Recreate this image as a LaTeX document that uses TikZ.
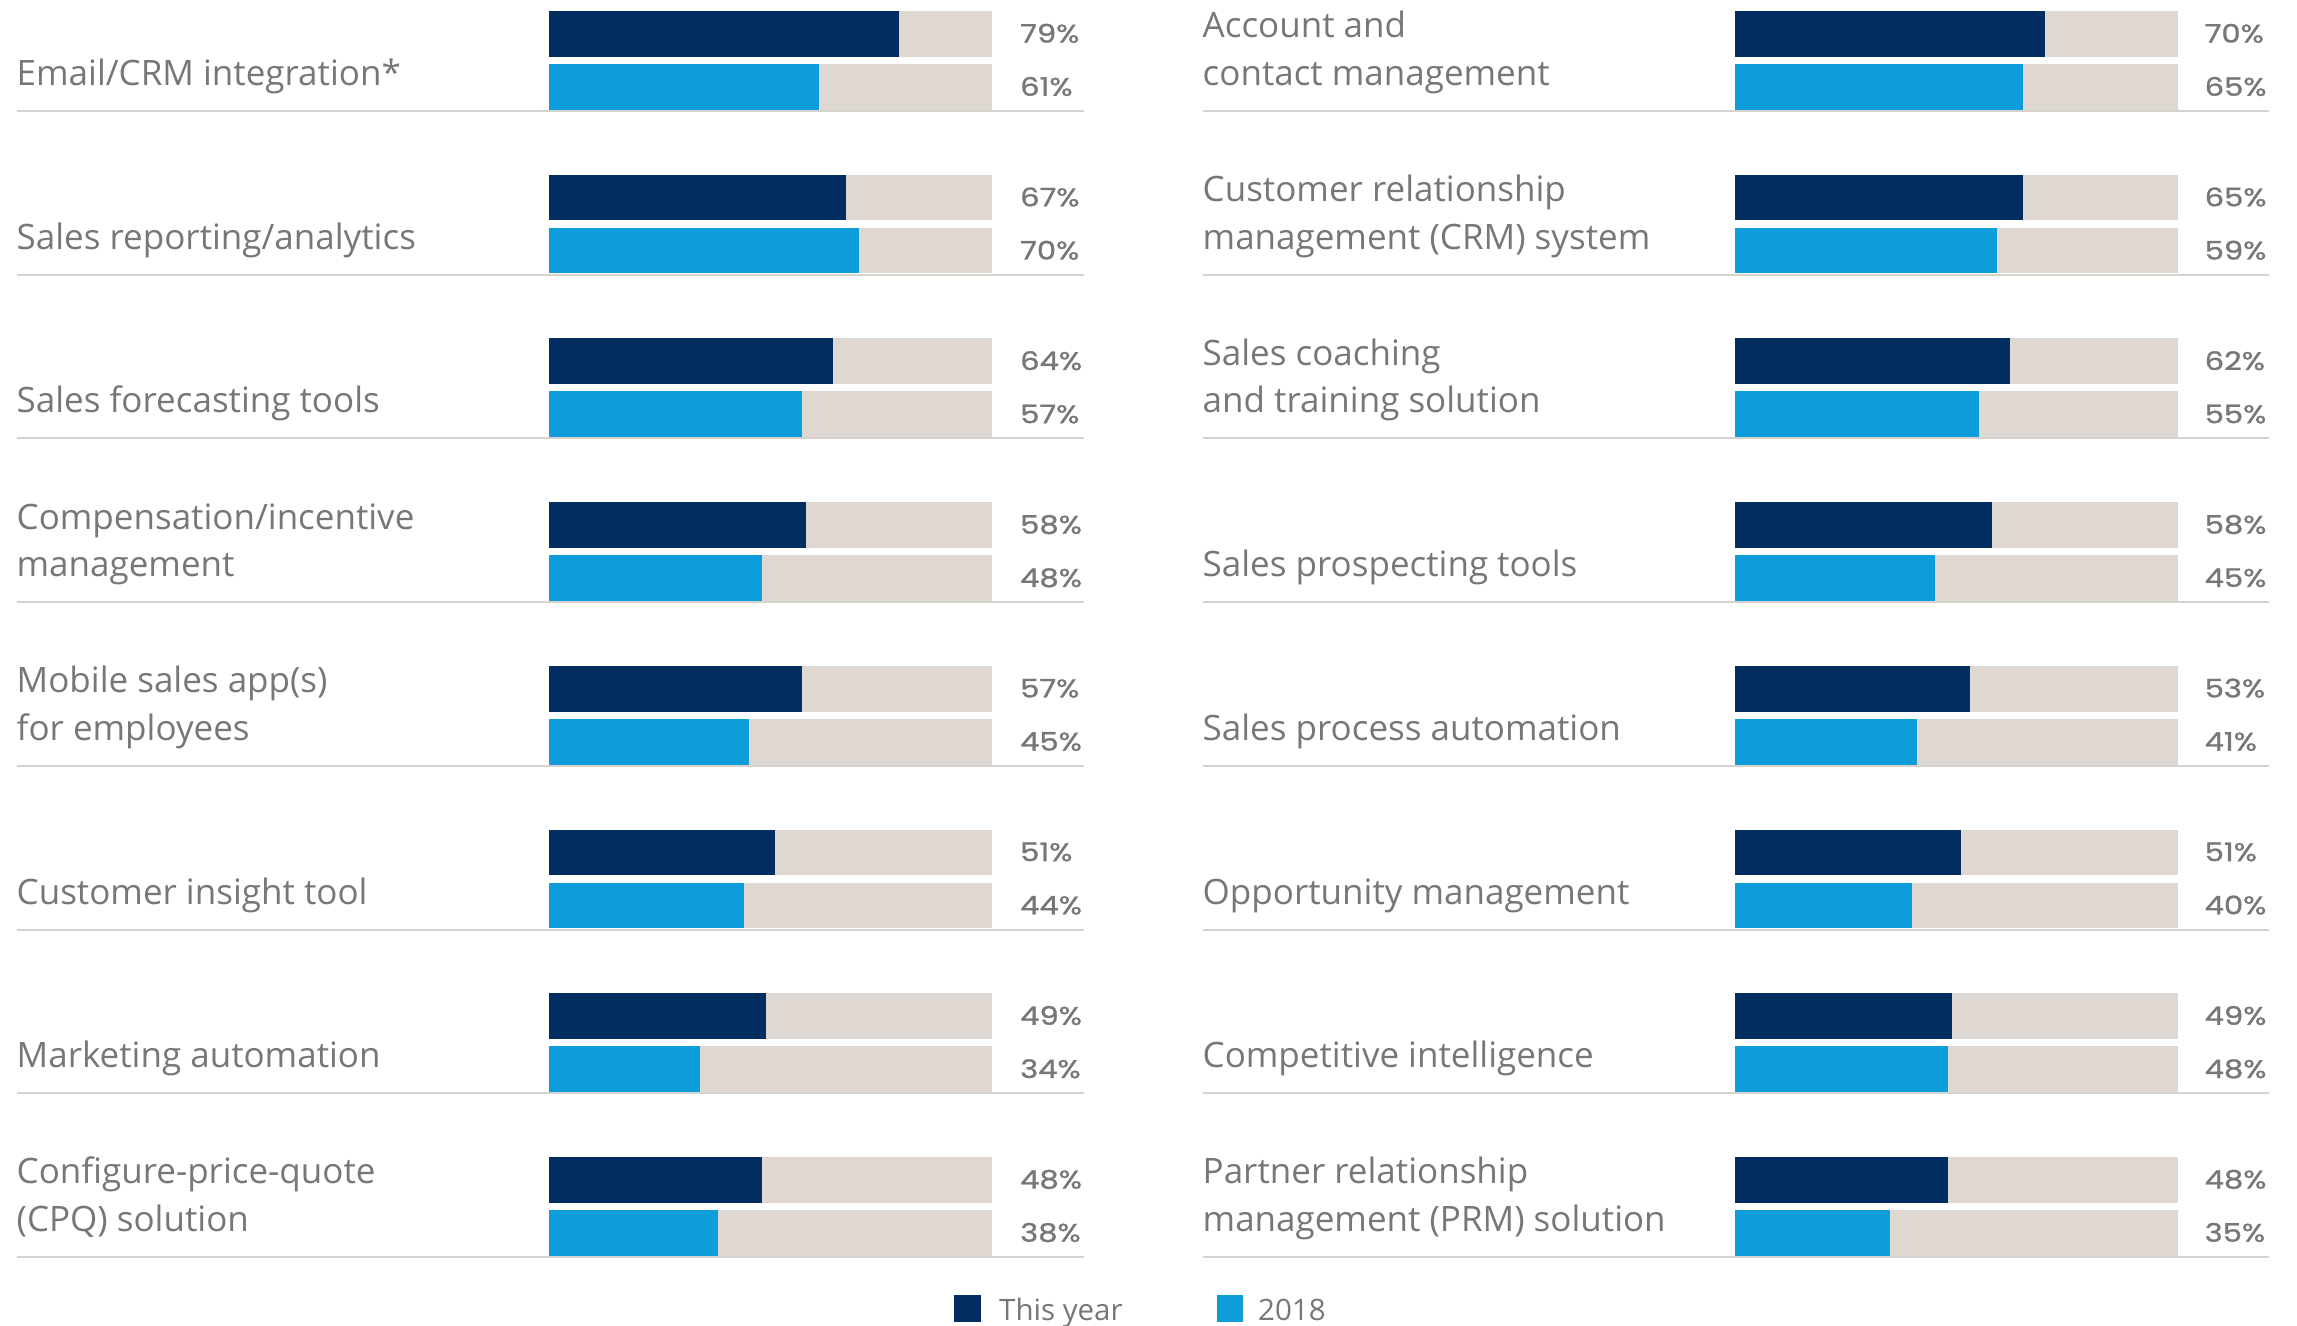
\documentclass[tikz,border=0pt]{standalone}
\usepackage{fontspec}
\setmainfont{Open Sans}
\newfontfamily\pctfont[FakeStretch=1.2,FakeBold=1.2]{Poppins}
\definecolor{navy}{HTML}{032E61}
\definecolor{sky}{HTML}{0D9DDA}
\definecolor{track}{HTML}{DED7D2}
\definecolor{rulecol}{HTML}{D6D2CE}
\definecolor{txt}{HTML}{76777A}
\tikzset{
  labeltext/.style={anchor=base west, inner sep=0pt, text=txt, align=left,
    font=\fontsize{35bp}{47.5bp}\selectfont},
  pcttext/.style={anchor=base west, inner sep=0pt, text=txt,
    font=\pctfont\fontsize{25.5bp}{28bp}\selectfont},
  legtext/.style={anchor=base west, inner sep=0pt, text=txt,
    font=\fontsize{29.5bp}{35bp}\selectfont},
  sepline/.style={draw=rulecol, line width=2bp}
}
% #1 name prefix, #2 x text, #3 x bar, #4 x pct, #5 x line end, #6 row index,
% #7 label, #8 this year, #9 2018
\newcommand\mkrow[9]{%
  \pgfmathsetmacro\rowT{11+#6*163.7}%
  \draw[sepline] (#2,\rowT+100) -- (#5,\rowT+100);
  \fill[track] (#3,\rowT) rectangle ++(442.7,45.7);
  \fill[navy] (#3,\rowT) rectangle ++(4.427*#8,45.7);
  \fill[track] (#3,\rowT+53) rectangle ++(442.7,45.7);
  \fill[sky] (#3,\rowT+53) rectangle ++(4.427*#9,45.7);
  \node[labeltext] (lab#1#6) at (#2,\rowT+74.5) {#7};
  \node[pcttext] (pa#1#6) at (#4,\rowT+31.6) {#8\%};
  \node[pcttext] (pb#1#6) at (#4,\rowT+84.8) {#9\%};
}
\newcommand\leftrow[4]{\mkrow{L}{16.5}{549.3}{1020}{1084}{#1}{#2}{#3}{#4}}
\newcommand\rightrow[4]{\mkrow{R}{1202.5}{1735.3}{2204.5}{2269}{#1}{#2}{#3}{#4}}
\begin{document}
\begin{tikzpicture}[x=1bp,y=-1bp]
\useasboundingbox (0,0) rectangle (2297,1326);
\leftrow{0}{Email/CRM integration*}{79}{61}
\leftrow{1}{Sales reporting/analytics}{67}{70}
\leftrow{2}{Sales forecasting tools}{64}{57}
\leftrow{3}{Compensation/incentive\\management}{58}{48}
\leftrow{4}{Mobile sales app(s)\\for employees}{57}{45}
\leftrow{5}{Customer insight tool}{51}{44}
\leftrow{6}{Marketing automation}{49}{34}
\leftrow{7}{Configure-price-quote\\(CPQ) solution}{48}{38}
\rightrow{0}{Account and\\contact management}{70}{65}
\rightrow{1}{Customer relationship\\management (CRM) system}{65}{59}
\rightrow{2}{Sales coaching\\and training solution}{62}{55}
\rightrow{3}{Sales prospecting tools}{58}{45}
\rightrow{4}{Sales process automation}{53}{41}
\rightrow{5}{Opportunity management}{51}{40}
\rightrow{6}{Competitive intelligence}{49}{48}
\rightrow{7}{Partner relationship\\management (PRM) solution}{48}{35}
% legend
\fill[navy] (953.5,1295) rectangle (980.5,1322);
\node[legtext] (legA) at (999,1320) {This year};
\fill[sky] (1216.7,1295) rectangle (1243.3,1322);
\node[legtext] (legB) at (1258,1320) {2018};
\end{tikzpicture}
\end{document}
